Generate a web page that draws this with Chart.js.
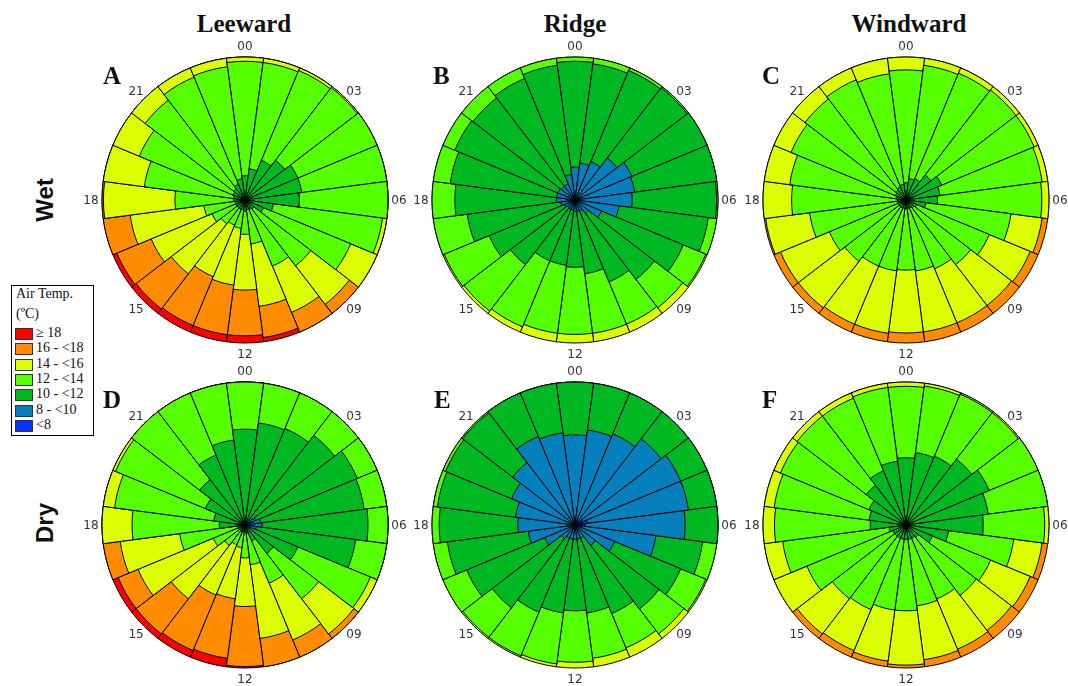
<!DOCTYPE html>
<html>
<head>
<meta charset="utf-8">
<script src="https://cdn.jsdelivr.net/npm/chart.js@4.4.1/dist/chart.umd.min.js"></script>
<style>
  html, body { margin: 0; padding: 0; background: #fff; }
  #page { position: relative; width: 1068px; height: 686px; overflow: hidden; background: #fff; }
  canvas.rose { position: absolute; }
  .coltitle { position: absolute; width: 200px; text-align: center; font: bold 25px "Liberation Serif", serif; line-height: 1; color: #111; }
  .rowtitle { position: absolute; font: bold 24px "Liberation Sans", Arial, sans-serif; line-height: 1; color: #111; transform: translate(-50%, -50%) rotate(-90deg); white-space: nowrap; }
  .letter { position: absolute; font: bold 25px "Liberation Serif", serif; line-height: 1; color: #111; }
  #legend { position: absolute; left: 11px; top: 285px; width: 83px; height: 151px; border: 1px solid #000; box-sizing: border-box; background: #fff; }
  .lgtext { position: absolute; left: 4px; font: 14px "Liberation Serif", serif; line-height: 1; color: #111; white-space: nowrap; }
  .lgrow { position: absolute; left: 0; }
  .lgswatch { position: absolute; left: 3px; width: 18px; height: 12px; box-sizing: border-box; border: 1px solid #333; }
  .lglabel { position: absolute; left: 24px; font: 14px "Liberation Serif", serif; line-height: 1; color: #111; white-space: nowrap; }
</style>
</head>
<body>
<div id="page">
  <div class="coltitle" style="left:144px; top:11px;">Leeward</div>
  <div class="coltitle" style="left:475px; top:11px;">Ridge</div>
  <div class="coltitle" style="left:809px; top:11px;">Windward</div>
  <div class="rowtitle" style="left:45px; top:200px;">Wet</div>
  <div class="rowtitle" style="left:45px; top:523px;">Dry</div>
  <div id="legend">
    <div class="lgtext" style="top:286px;"></div>
  </div>
</div>
<script>
// Hours of the day, clockwise from the top
const hours = ['00','01','02','03','04','05','06','07','08','09','10','11',
               '12','13','14','15','16','17','18','19','20','21','22','23'];
const hourTicks = ['00','03','06','09','12','15','18','21'];

// Air temperature classes, coldest first
const classLabels = ['<8', '8 - <10', '10 - <12', '12 - <14', '14 - <16', '16 - <18', '\u2265 18'];
const classColors = ['#0a32ff', '#0580bd', '#00b822', '#55ff00', '#dcff00', '#ff8c00', '#ff0000'];

// Cumulative share of observations (%) up to the top of each class, per hour 00..23

// Leeward, wet season
const leeWetTo12 = [17,22,30,35,40,40,38,20,14,8,7,7,8,7,7,7,7,7,8,8,9,10,12,15];
const leeWetTo14 = [97,97,98,99,100,100,100,97,80,58,50,31,24,20,19,21,25,29,49,71,80,88,93,94];
const leeWetTo16 = [100,100,100,100,100,100,100,100,100,92,85,75,63,60,58,65,71,81,99,100,100,100,100,100];
const leeWetTo18 = [100,100,100,100,100,100,100,100,100,100,100,97,95,95,95,96,97,100,100,100,100,100,100,100];
const leeWetAll  = [100,100,100,100,100,100,100,100,100,100,100,100,100,100,100,100,100,100,100,100,100,100,100,100];

// Ridge, wet season
const ridWetTo10 = [23,26,29,37,43,42,40,31,20,12,8,8,8,7,7,7,8,10,13,13,13,12,12,18];
const ridWetTo12 = [97,96,98,99,100,100,99,94,82,70,62,52,47,46,46,57,65,76,84,88,91,90,92,95];
const ridWetTo14 = [100,100,100,100,100,100,100,100,99,95,94,94,94,94,96,98,99,100,100,100,100,100,100,100];
const ridWetAll  = [100,100,100,100,100,100,100,100,100,100,100,100,100,100,100,100,100,100,100,100,100,100,100,100];

// Windward, wet season
const winWetTo12 = [12,15,16,22,27,24,22,14,8,7,6,6,6,6,6,6,6,6,6,7,8,9,10,11];
const winWetTo14 = [91,95,96,97,97,96,95,74,63,57,52,50,49,50,50,54,58,68,80,82,87,89,91,89];
const winWetTo16 = [100,100,100,100,100,100,100,96,94,93,93,93,93,94,94,95,95,99,100,100,100,100,100,100];
const winWetAll  = [100,100,100,100,100,100,100,100,100,100,100,100,100,100,100,100,100,100,100,100,100,100,100,100];

// Leeward, dry season
const leeDryTo10 = [3,3,3,5,8,11,12,8,4,2,2,2,2,2,2,2,2,2,2,2,2,2,2,3];
const leeDryTo12 = [67,72,73,79,85,84,86,78,40,25,12,6,5,5,5,5,5,5,18,22,30,40,53,60];
const leeDryTo14 = [100,100,100,100,100,100,100,100,95,65,44,28,23,16,15,18,24,46,79,92,98,100,100,100];
const leeDryTo16 = [100,100,100,100,100,100,100,100,100,96,87,80,57,52,53,65,81,88,100,100,100,100,100,100];
const leeDryTo18 = [100,100,100,100,100,100,100,100,100,100,100,100,99,94,95,96,96,100,100,100,100,100,100,100];
const leeDryAll  = [100,100,100,100,100,100,100,100,100,100,100,100,100,100,100,100,100,100,100,100,100,100,100,100];

// Ridge, dry season
const ridDryTo8  = [1,1,1,3,6,9,7,3,1,0,0,0,0,0,0,0,0,0,0,0,0,0,0,1];
const ridDryTo10 = [63,67,69,76,80,80,77,57,30,18,10,10,10,10,10,12,23,33,40,42,48,55,67,65];
const ridDryTo12 = [100,100,100,100,100,100,100,90,80,74,67,62,60,62,66,73,82,90,95,97,98,99,100,100];
const ridDryTo14 = [100,100,100,100,100,100,100,100,99,96,93,94,96,98,99,99,100,100,100,100,100,100,100,100];
const ridDryAll  = [100,100,100,100,100,100,100,100,100,100,100,100,100,100,100,100,100,100,100,100,100,100,100,100];

// Windward, dry season
const winDryTo12 = [47,51,52,58,63,58,54,30,20,11,10,10,10,10,10,10,10,12,25,26,28,35,41,45];
const winDryTo14 = [97,98,99,99,100,100,97,76,64,62,56,57,60,60,64,65,75,87,92,93,95,96,96,97];
const winDryTo16 = [100,100,100,100,100,100,100,96,94,93,94,95,98,96,95,96,100,100,100,100,100,100,100,100];
const winDryAll  = [100,100,100,100,100,100,100,100,100,100,100,100,100,100,100,100,100,100,100,100,100,100,100,100];

// Stacks per panel, innermost band first: [cumulative values, class index]
const panelSeries = {
  A: [[leeWetTo12, 2], [leeWetTo14, 3], [leeWetTo16, 4], [leeWetTo18, 5], [leeWetAll, 6]],
  B: [[ridWetTo10, 1], [ridWetTo12, 2], [ridWetTo14, 3], [ridWetAll, 4]],
  C: [[winWetTo12, 2], [winWetTo14, 3], [winWetTo16, 4], [winWetAll, 5]],
  D: [[leeDryTo10, 1], [leeDryTo12, 2], [leeDryTo14, 3], [leeDryTo16, 4], [leeDryTo18, 5], [leeDryAll, 6]],
  E: [[ridDryTo8, 0], [ridDryTo10, 1], [ridDryTo12, 2], [ridDryTo14, 3], [ridDryAll, 4]],
  F: [[winDryTo12, 2], [winDryTo14, 3], [winDryTo16, 4], [winDryAll, 5]]
};

// Page layout: rose centres, radius and panel-letter anchors
const ROSE_R = 143;
const PAD = 22;
const panelLayout = [
  { key: 'A', cx: 245, cy: 200, lx: 103, ly: 63 },
  { key: 'B', cx: 575, cy: 200, lx: 433, ly: 63 },
  { key: 'C', cx: 906, cy: 200, lx: 762, ly: 63 },
  { key: 'D', cx: 245, cy: 525, lx: 103, ly: 387 },
  { key: 'E', cx: 575, cy: 525, lx: 434, ly: 387 },
  { key: 'F', cx: 906, cy: 525, lx: 762, ly: 387 }
];

const page = document.getElementById('page');

// Hour labels around the rim, placed with the radial scale
const hourLabelPlugin = {
  id: 'hourLabels',
  afterDraw(chart) {
    const r = chart.scales.r;
    const ctx = chart.ctx;
    ctx.save();
    ctx.font = '12px "DejaVu Sans", Verdana, sans-serif';
    ctx.fillStyle = '#333';
    ctx.textAlign = 'center';
    ctx.textBaseline = 'middle';
    const half = Math.PI / hours.length;
    hourTicks.forEach(t => {
      const p = r.getPointPosition(hours.indexOf(t), r.drawingArea + 11, half);
      ctx.fillText(t, p.x, p.y + 1);
    });
    ctx.restore();
  }
};

panelLayout.forEach(p => {
  const size = 2 * (ROSE_R + PAD);
  const cv = document.createElement('canvas');
  cv.className = 'rose';
  cv.width = size; cv.height = size;
  cv.style.left = (p.cx - size / 2) + 'px';
  cv.style.top = (p.cy - size / 2) + 'px';
  cv.style.width = size + 'px'; cv.style.height = size + 'px';
  page.appendChild(cv);

  const datasets = panelSeries[p.key].map(([vals, k]) => ({
    label: classLabels[k],
    data: vals,
    backgroundColor: classColors[k],
    borderColor: '#000',
    borderWidth: 1
  }));

  new Chart(cv, {
    type: 'polarArea',
    data: { labels: hours, datasets },
    options: {
      responsive: false,
      maintainAspectRatio: false,
      animation: false,
      layout: { padding: PAD },
      plugins: { legend: { display: false }, tooltip: { enabled: false } },
      scales: {
        r: {
          min: 0, max: 100,
          startAngle: -7.5,
          grid: { display: false },
          angleLines: { display: false },
          ticks: { display: false },
          pointLabels: { display: false }
        }
      }
    },
    plugins: [hourLabelPlugin]
  });

  const letter = document.createElement('div');
  letter.className = 'letter';
  letter.textContent = p.key;
  letter.style.left = p.lx + 'px';
  letter.style.top = p.ly + 'px';
  page.appendChild(letter);
});

// Legend box
const legend = document.getElementById('legend');
legend.innerHTML = '';
const t1 = document.createElement('div');
t1.className = 'lgtext'; t1.style.top = '1px'; t1.textContent = 'Air Temp.';
legend.appendChild(t1);
const t2 = document.createElement('div');
t2.className = 'lgtext'; t2.style.top = '21px'; t2.textContent = '(\u00baC)';
legend.appendChild(t2);
const rowBase = 40;
const rowStep = 15.3;
for (let i = classLabels.length - 1, n = 0; i >= 0; i--, n++) {
  const y = rowBase + n * rowStep;
  const sw = document.createElement('div');
  sw.className = 'lgswatch';
  sw.style.top = (y + 2) + 'px';
  sw.style.background = classColors[i];
  legend.appendChild(sw);
  const lb = document.createElement('div');
  lb.className = 'lglabel';
  lb.style.top = y + 'px';
  lb.textContent = classLabels[i];
  legend.appendChild(lb);
}
</script>
</body>
</html>
